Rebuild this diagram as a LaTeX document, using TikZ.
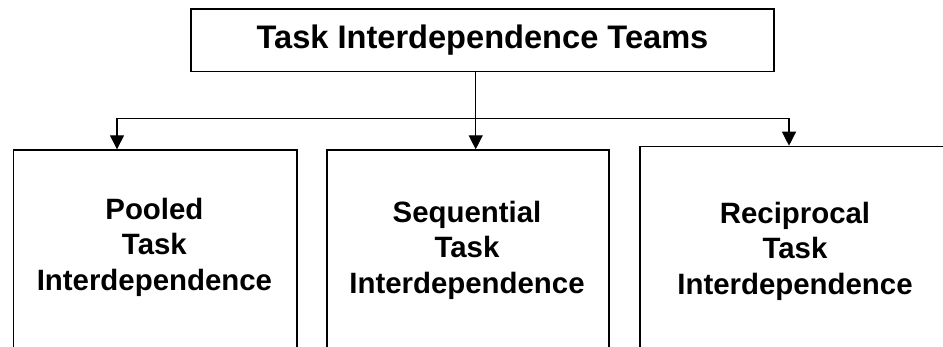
\documentclass[tikz,border=0pt]{standalone}
\usepackage{fontspec}
\setmainfont{Liberation Sans}
\usetikzlibrary{arrows.meta}
\begin{document}
\begin{tikzpicture}[x=1pt,y=-1pt,
  box/.style={draw, line width=1.6pt, inner sep=0pt},
  conn/.style={line width=1.3pt, line join=miter},
  tip/.tip={Triangle[width=14pt,length=14pt]},
  lbl/.style={align=center, font=\fontsize{29.4}{35.5}\selectfont\bfseries, inner sep=0pt}]
\useasboundingbox (0,0) rectangle (943,347);
\clip (0,0) rectangle (943,347);
\node[box, minimum width=583pt, minimum height=62.4pt, font=\fontsize{32.6}{38}\selectfont\bfseries] (top) at (482.5,40.5) {Task Interdependence Teams};
\node[box, minimum width=283.3pt, minimum height=220pt, anchor=north west] (pool) at (12.7,149.3) {};
\node[box, minimum width=282pt, minimum height=220pt, anchor=north west] (seq) at (326,149.3) {};
\node[box, minimum width=320pt, minimum height=220pt, anchor=north west] (rec) at (639,145.7) {};
\node[lbl] (poolt) at (154.4,247) {Pooled\\Task\\Interdependence};
\node[lbl] (seqt) at (467,250) {Sequential\\Task\\Interdependence};
\node[lbl] (rect) at (795,251) {Reciprocal\\Task\\Interdependence};
\coordinate (jl) at (117,118.5);
\coordinate (jm) at (475.7,118.5);
\coordinate (jr) at (789,118.5);
\draw[conn, -tip] (top.south -| jm) -- (seq.north -| jm);
\draw[conn, tip-tip] (jl |- pool.north) -- (jl) -- (jr) -- (jr |- rec.north);
\end{tikzpicture}
\end{document}
